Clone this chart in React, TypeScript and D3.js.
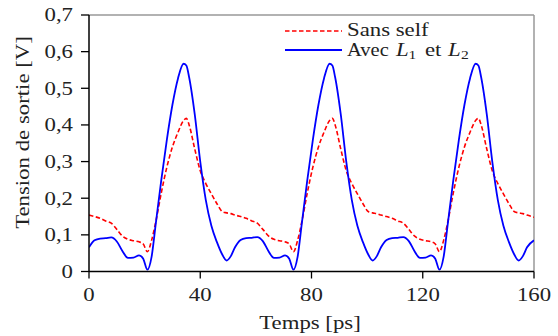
import React from "react";
import * as d3 from "d3";

const timePs = [
  0, 2, 4, 6, 8, 10, 12, 14, 16, 18, 19.5, 21, 22.5, 24, 26, 28, 30, 32, 34, 35, 36, 38, 40, 42, 44, 46, 48, 49.5, 51,
  52.5, 54.5, 56.5, 58.5, 60.5, 62.5, 64.5, 66.5, 68.5, 70.5, 72, 73.5, 75, 76.5, 78.5, 80.5, 82.5, 84.5, 86.5, 87.5, 88.5, 90.5, 92.5, 94.5, 96.5, 98.5, 100.5, 102, 103.5,
  105, 107, 109, 111, 113, 115, 117, 119, 121, 123, 124.5, 126, 127.5, 129, 131, 133, 135, 137, 139, 140, 141, 143, 145, 147, 149, 151, 153, 154.5, 156,
  157.5, 160,
];

const avecL1L2 = [
  0.066, 0.085, 0.09, 0.091, 0.093, 0.082, 0.056, 0.037, 0.038, 0.044, 0.035, 0.005, 0.04, 0.13, 0.25, 0.36, 0.455, 0.527, 0.567, 0.562, 0.53, 0.43, 0.3, 0.195, 0.125, 0.08, 0.045, 0.03, 0.042,
  0.066, 0.086, 0.091, 0.092, 0.094, 0.083, 0.056, 0.037, 0.038, 0.044, 0.035, 0.005, 0.04, 0.13, 0.25, 0.36, 0.455, 0.527, 0.567, 0.562, 0.53, 0.43, 0.3, 0.195, 0.125, 0.08, 0.045, 0.03, 0.042,
  0.066, 0.086, 0.091, 0.092, 0.094, 0.083, 0.056, 0.037, 0.038, 0.044, 0.035, 0.005, 0.04, 0.13, 0.25, 0.36, 0.455, 0.527, 0.567, 0.562, 0.53, 0.43, 0.3, 0.195, 0.125, 0.08, 0.045, 0.03, 0.042,
  0.066, 0.085,
];

const sansSelf = [
  0.154, 0.15, 0.145, 0.138, 0.132, 0.115, 0.097, 0.088, 0.084, 0.081, 0.075, 0.054, 0.085, 0.135, 0.215, 0.285, 0.34, 0.38, 0.412, 0.418, 0.4, 0.335, 0.275, 0.24, 0.212, 0.185, 0.163, 0.16, 0.158,
  0.154, 0.15, 0.145, 0.138, 0.132, 0.115, 0.097, 0.088, 0.084, 0.081, 0.075, 0.054, 0.085, 0.135, 0.215, 0.285, 0.34, 0.38, 0.412, 0.418, 0.4, 0.335, 0.275, 0.24, 0.212, 0.185, 0.163, 0.16, 0.158,
  0.154, 0.15, 0.145, 0.138, 0.132, 0.115, 0.097, 0.088, 0.084, 0.081, 0.075, 0.054, 0.085, 0.135, 0.215, 0.285, 0.34, 0.38, 0.412, 0.418, 0.4, 0.335, 0.275, 0.24, 0.212, 0.185, 0.163, 0.16, 0.158,
  0.154, 0.148,
];

const xTicks = [0, 40, 80, 120, 160];
const yTicks = [0, 0.1, 0.2, 0.3, 0.4, 0.5, 0.6, 0.7];
const yTickLabels = ["0", "0,1", "0,2", "0,3", "0,4", "0,5", "0,6", "0,7"];

const W = 558;
const H = 336;
const left = 89;
const right = 534;
const top = 15;
const bottom = 271.5;
const FONT = "'Liberation Serif', 'Times New Roman', serif";
const FS = 19;
const SX = 1.2;
const TXT = "#222";

export default function App() {
  const x = d3.scaleLinear().domain([0, 160]).range([left, right]);
  const y = d3.scaleLinear().domain([0, 0.7]).range([bottom, top]);
  const line = d3
    .line<number>()
    .x((_, i) => x(timePs[i]))
    .y((d) => y(d))
    .curve(d3.curveMonotoneX);

  const tx = (px: number, py: number, s: number = SX) => `translate(${px},${py}) scale(${s},1)`;

  return (
    <svg
      width={W}
      height={H}
      style={{ position: "absolute", left: 0, top: 0, background: "#fff" }}
      fontFamily={FONT}
    >
      <defs>
        <clipPath id="plot">
          <rect x={left} y={top - 1} width={right - left} height={bottom - top + 2} />
        </clipPath>
      </defs>
      <line x1={left} x2={right} y1={top} y2={top} stroke="#999" strokeWidth={1.5} />
      <line x1={right} x2={right} y1={top} y2={bottom} stroke="#999" strokeWidth={1.5} />

      <g clipPath="url(#plot)">
        <path d={line(sansSelf) || ""} fill="none" stroke="#ff0000" strokeWidth={1.6} strokeDasharray="4.5,2.5" />
        <path d={line(avecL1L2) || ""} fill="none" stroke="#0000ff" strokeWidth={1.8} />
      </g>

      <line x1={left} x2={left} y1={top} y2={bottom} stroke="#000" strokeWidth={1.5} />
      <line x1={left} x2={right} y1={bottom} y2={bottom} stroke="#000" strokeWidth={1.5} />

      {yTicks.map((t, i) => (
        <g key={"y" + i}>
          <line x1={left - 8} x2={left} y1={y(t)} y2={y(t)} stroke="#000" strokeWidth={1.3} />
          <text transform={tx(73, y(t))} dy="0.34em" textAnchor="end" fontSize={FS} fill={TXT}>
            {yTickLabels[i]}
          </text>
        </g>
      ))}
      {xTicks.map((t, i) => (
        <g key={"x" + i}>
          <line x1={x(t)} x2={x(t)} y1={bottom} y2={bottom + 7} stroke="#000" strokeWidth={1.3} />
          <text transform={tx(x(t), 301)} textAnchor="middle" fontSize={FS} fill={TXT}>
            {t}
          </text>
        </g>
      ))}

      <text transform={tx(310, 328.5)} textAnchor="middle" fontSize={FS} fill={TXT}>
        Temps [ps]
      </text>
      <text transform={`translate(29,132.5) rotate(-90) scale(${SX},1)`} textAnchor="middle" fontSize={FS} fill={TXT}>
        Tension de sortie [V]
      </text>

      <line x1={285} x2={342} y1={31} y2={31} stroke="#ff0000" strokeWidth={1.6} strokeDasharray="4.5,2.5" />
      <line x1={285} x2={342} y1={50} y2={50} stroke="#0000ff" strokeWidth={1.8} />
      <text transform={tx(347, 35.5)} fontSize={FS} fill={TXT}>
        Sans self
      </text>
      <g fontSize={FS} fill={TXT}>
        <text transform={tx(347, 55.5, 1.08)}>Avec</text>
        <text transform={tx(396, 55.5)} fontStyle="italic">L</text>
        <text transform={tx(408.5, 58.5)} fontSize={13}>1</text>
        <text transform={tx(425, 55.5)}>et</text>
        <text transform={tx(448, 55.5)} fontStyle="italic">L</text>
        <text transform={tx(461, 58.5)} fontSize={13}>2</text>
      </g>
    </svg>
  );
}
